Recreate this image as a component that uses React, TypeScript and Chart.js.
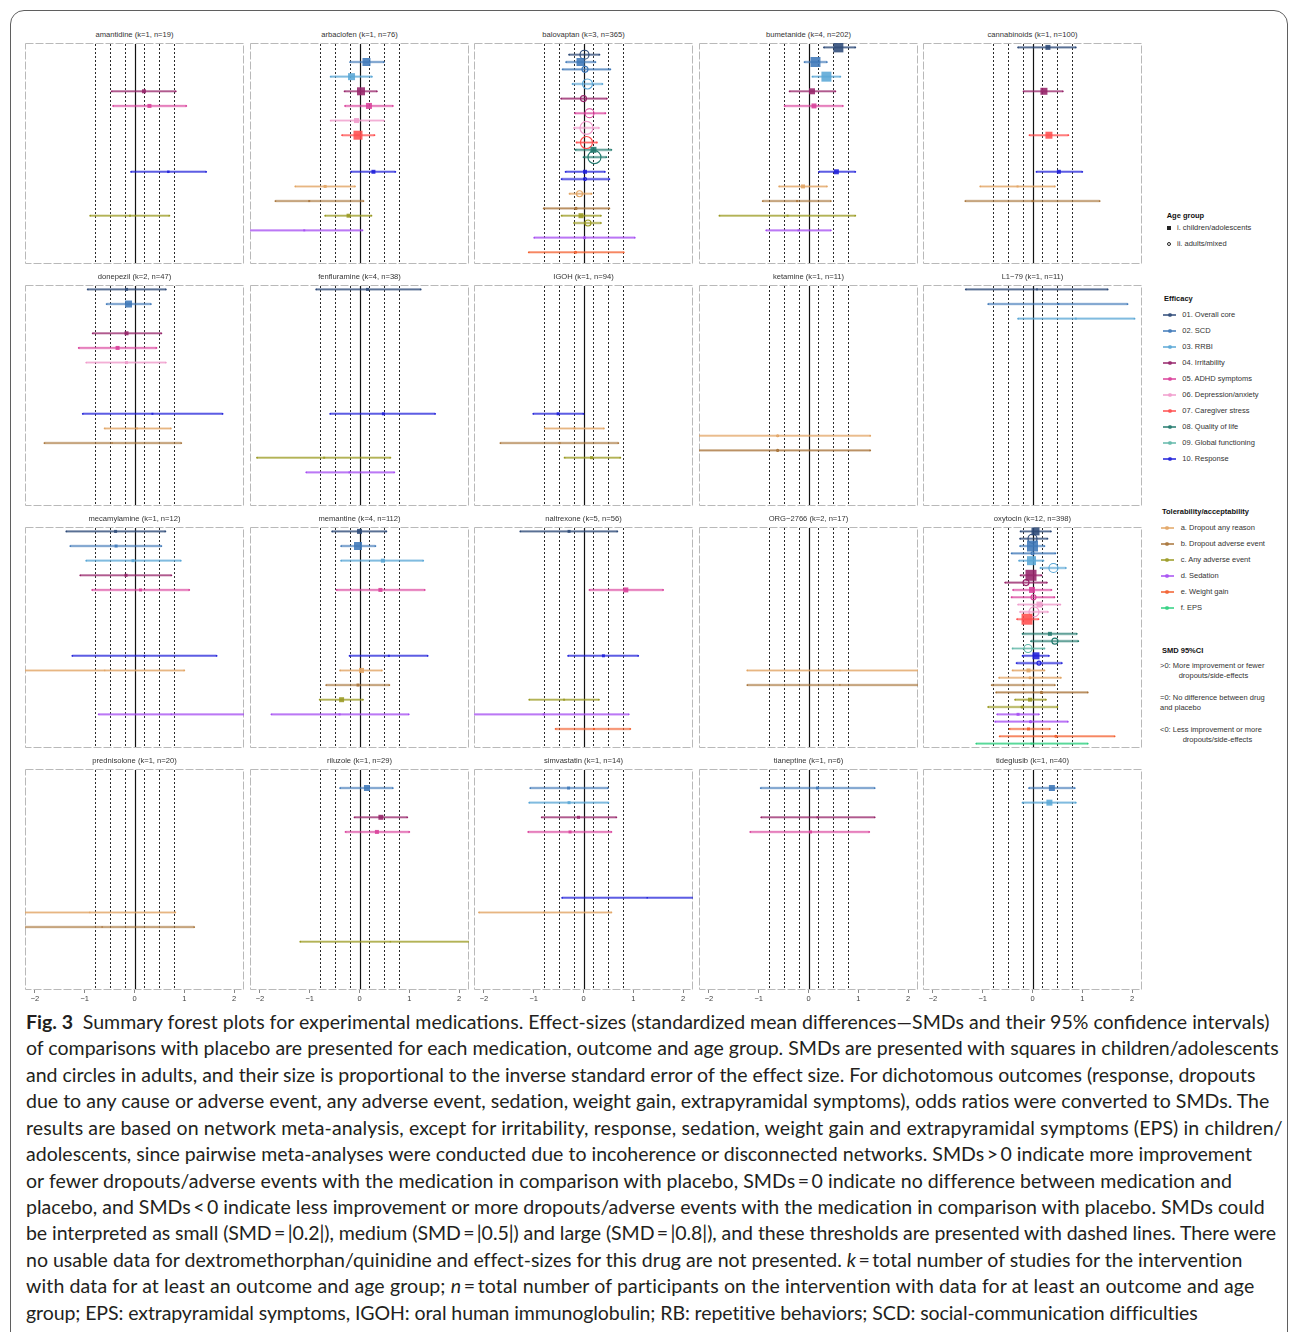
import React, { useEffect, useLayoutEffect, useRef } from "react";
import { Chart, registerables } from "chart.js";
Chart.register(...registerables);

// ---------- DATA ----------
type Row = [string, number, number, number, number]; // row key, SMD, lower CI, upper CI, precision (marker size ~ 1/SE)

// y-axis rows (outcome code + age group: c = children/adolescents, a = adults/mixed)
const rowKeys = [
  "01c", "01a", "02c", "02a", "03c", "03a", "04c", "04a", "05c", "05a",
  "06c", "06a", "07c", "07a", "08c", "08a", "09a", "10c", "10a",
  "ac", "aa", "bc", "ba", "cc", "ca", "dc", "da", "ec", "ea", "fc",
];
const xTicks = [-2, -1, 0, 1, 2];
const thresholds = [-0.8, -0.5, -0.2, 0.2, 0.5, 0.8];

const outcomeCodes = ["01", "02", "03", "04", "05", "06", "07", "08", "09", "10", "a", "b", "c", "d", "e", "f"];
const outcomeColors = [
  "#2e4a78", "#3e78b8", "#5aa7d6", "#96246a", "#d9409a", "#f09ccc", "#ff4d4d", "#237a6e", "#62b8a9", "#1f1fd9",
  "#e2a564", "#a8743a", "#9a9a22", "#a64ff2", "#f25f2e", "#2fd080",
];
const efficacyLabels = [
  "01. Overall core", "02. SCD", "03. RRBI", "04. Irritability", "05. ADHD symptoms",
  "06. Depression/anxiety", "07. Caregiver stress", "08. Quality of life", "09. Global functioning", "10. Response",
];
const tolerabilityLabels = [
  "a. Dropout any reason", "b. Dropout adverse event", "c. Any adverse event", "d. Sedation", "e. Weight gain", "f. EPS",
];
const ageLabels = ["i. children/adolescents", "ii. adults/mixed"];

const drugNames = [
  "amantidine", "arbaclofen", "balovaptan", "bumetanide", "cannabinoids",
  "donepezil", "fenfluramine", "IGOH", "ketamine", "L1\u221279",
  "mecamylamine", "memantine", "naltrexone", "ORG\u22122766", "oxytocin",
  "prednisolone", "riluzole", "simvastatin", "tianeptine", "tideglusib",
];
const drugK = [1, 1, 3, 4, 1, 2, 4, 1, 1, 1, 1, 4, 5, 2, 12, 1, 1, 1, 1, 1];
const drugN = [19, 76, 365, 202, 100, 47, 38, 94, 11, 11, 12, 112, 56, 17, 398, 20, 29, 14, 6, 40];

const amantidine: Row[] = [
  ["04c", 0.19, -0.46, 0.83, 4], ["05c", 0.30, -0.43, 1.04, 4], ["10c", 0.68, -0.07, 1.44, 2.5], ["cc", -0.09, -0.89, 0.70, 2],
];
const arbaclofen: Row[] = [
  ["02c", 0.14, -0.19, 0.49, 8], ["03c", -0.16, -0.58, 0.25, 7], ["04c", 0.03, -0.30, 0.35, 8], ["05c", 0.19, -0.29, 0.67, 6],
  ["06c", -0.06, -0.58, 0.49, 5], ["07c", -0.03, -0.35, 0.30, 9], ["10c", 0.28, -0.17, 0.72, 4], ["ac", -0.69, -1.29, -0.09, 3],
  ["bc", -1.01, -1.69, 0.08, 2], ["cc", -0.22, -0.69, 0.24, 4], ["dc", -1.11, -2.6, 0.06, 2],
];
const balovaptan: Row[] = [
  ["01a", 0.02, -0.29, 0.32, 9], ["02c", -0.06, -0.35, 0.24, 8], ["02a", 0.03, -0.42, 0.54, 6], ["03a", 0.08, -0.22, 0.38, 10],
  ["04a", 0.0, -0.45, 0.47, 6], ["05a", 0.12, -0.17, 0.44, 9], ["06a", 0.06, -0.19, 0.31, 13], ["07a", 0.06, -0.14, 0.27, 12],
  ["08c", 0.20, -0.16, 0.56, 6], ["08a", 0.22, 0.0, 0.46, 13], ["10c", 0.03, -0.36, 0.43, 4], ["10a", 0.03, -0.44, 0.52, 3],
  ["aa", -0.08, -0.28, 0.16, 6], ["ba", -0.15, -0.80, 0.52, 2], ["cc", -0.05, -0.44, 0.35, 5], ["ca", 0.09, -0.19, 0.35, 6],
  ["da", 0.02, -0.99, 1.03, 2], ["ea", -0.16, -1.10, 0.81, 2],
];
const bumetanide: Row[] = [
  ["01c", 0.60, 0.31, 0.94, 10], ["02c", 0.14, -0.08, 0.37, 10], ["03c", 0.36, 0.08, 0.64, 10], ["04c", 0.07, -0.38, 0.54, 6],
  ["05c", 0.11, -0.48, 0.69, 5], ["10c", 0.56, 0.21, 0.94, 5], ["ac", -0.11, -0.59, 0.37, 4], ["bc", -0.23, -0.92, 0.45, 2],
  ["cc", -0.42, -1.79, 0.94, 2], ["dc", -0.20, -0.85, 0.45, 2],
];
const cannabinoids: Row[] = [
  ["01c", 0.31, -0.29, 0.87, 5], ["04c", 0.23, -0.18, 0.61, 7], ["07c", 0.33, -0.06, 0.72, 7], ["10c", 0.53, 0.08, 1.0, 4],
  ["ac", -0.30, -1.05, 0.45, 2], ["bc", 0.0, -1.35, 1.35, 2],
];
const donepezil: Row[] = [
  ["01c", -0.16, -0.94, 0.63, 3], ["02c", -0.12, -0.56, 0.33, 7], ["04c", -0.16, -0.84, 0.54, 4], ["05c", -0.34, -1.12, 0.44, 4],
  ["06c", -0.16, -0.97, 0.63, 3], ["10c", 0.36, -1.04, 1.77, 2], ["ac", 0.05, -0.60, 0.73, 2], ["bc", -0.45, -1.81, 0.94, 1.5],
];
const fenfluramine: Row[] = [
  ["01c", 0.16, -0.87, 1.23, 3], ["10c", 0.48, -0.59, 1.52, 3], ["cc", -0.71, -2.06, 0.62, 2], ["dc", -0.20, -1.07, 0.70, 2],
];
const igoh: Row[] = [
  ["10c", -0.51, -1.01, 0.0, 3], ["ac", -0.18, -0.78, 0.41, 2], ["bc", -0.48, -1.67, 0.70, 2], ["cc", 0.16, -0.38, 0.74, 3],
];
const ketamine: Row[] = [
  ["aa", -0.62, -2.6, 1.24, 2], ["ba", -0.62, -2.6, 1.24, 2],
];
const l179: Row[] = [
  ["01c", 0.09, -1.34, 1.51, 2], ["02c", 0.52, -0.89, 1.91, 2], ["03c", 0.87, -0.29, 2.05, 2],
];
const mecamylamine: Row[] = [
  ["01c", -0.38, -1.37, 0.62, 3], ["02c", -0.37, -1.29, 0.54, 3], ["03c", -0.03, -0.97, 0.93, 3], ["04c", -0.17, -1.09, 0.74, 3],
  ["05c", 0.12, -0.85, 1.10, 3], ["10c", 0.20, -1.25, 1.65, 1.5], ["ac", -0.60, -2.4, 1.0, 1.5], ["dc", 0.74, -0.72, 2.3, 1.5],
];
const memantine: Row[] = [
  ["01c", 0.0, -0.55, 0.54, 5], ["02c", -0.03, -0.37, 0.32, 8], ["03c", 0.47, -0.37, 1.28, 4], ["05c", 0.42, -0.46, 1.31, 4],
  ["10c", 0.59, -0.20, 1.37, 2], ["ac", 0.04, -0.39, 0.45, 5], ["bc", -0.03, -0.67, 0.60, 3], ["cc", -0.36, -0.80, 0.07, 5],
  ["dc", -0.40, -1.77, 0.99, 2],
];
const naltrexone: Row[] = [
  ["01c", -0.29, -1.27, 0.68, 3], ["05c", 0.85, 0.12, 1.60, 5], ["10c", 0.40, -0.31, 1.10, 3], ["cc", -0.39, -1.09, 0.31, 2],
  ["dc", -0.80, -2.4, 0.91, 2], ["ec", 0.21, -0.56, 0.94, 2],
];
const org2766: Row[] = [
  ["ac", 0.63, -1.23, 2.5, 1.5], ["bc", 0.63, -1.23, 2.5, 1.5],
];
const oxytocin: Row[] = [
  ["01c", 0.06, -0.24, 0.37, 8], ["01a", 0.0, -0.25, 0.30, 9], ["02c", 0.0, -0.25, 0.24, 11], ["02a", 0.0, -0.42, 0.46, 3],
  ["03c", -0.02, -0.27, 0.22, 9], ["03a", 0.42, 0.16, 0.67, 9], ["04c", -0.03, -0.24, 0.18, 11], ["04a", -0.13, -0.55, 0.29, 6],
  ["05c", -0.01, -0.39, 0.38, 6], ["05a", 0.02, -0.42, 0.44, 5], ["06c", 0.14, -0.29, 0.56, 6], ["06a", 0.03, -0.25, 0.31, 10],
  ["07c", -0.11, -0.31, 0.12, 11], ["08c", 0.35, -0.20, 0.89, 4], ["08a", 0.45, -0.03, 0.92, 6], ["09a", -0.09, -0.40, 0.24, 8],
  ["10c", 0.07, -0.20, 0.33, 7], ["10a", 0.13, -0.32, 0.59, 4], ["ac", -0.08, -0.40, 0.24, 4], ["aa", -0.05, -0.67, 0.57, 2],
  ["bc", -0.18, -0.82, 0.45, 2], ["ba", 0.18, -0.73, 1.11, 2], ["cc", -0.05, -0.35, 0.27, 4], ["ca", -0.21, -0.89, 0.50, 2],
  ["dc", -0.29, -0.71, 0.13, 3], ["da", -0.04, -0.75, 0.71, 2], ["ec", -0.08, -0.46, 0.35, 3], ["ea", 0.47, -0.66, 1.65, 2],
  ["fc", -0.02, -1.13, 1.11, 2],
];
const prednisolone: Row[] = [
  ["ac", -0.9, -2.6, 0.82, 1.5], ["bc", -0.65, -2.6, 1.20, 1.5],
];
const riluzole: Row[] = [
  ["02c", 0.15, -0.39, 0.67, 6], ["04c", 0.43, -0.10, 0.96, 5], ["05c", 0.35, -0.28, 1.0, 4], ["cc", 0.62, -1.19, 2.5, 1.5],
];
const simvastatin: Row[] = [
  ["02c", -0.30, -1.07, 0.49, 3], ["03c", -0.29, -1.09, 0.50, 3], ["04c", -0.10, -0.84, 0.66, 3], ["05c", -0.27, -1.11, 0.56, 3],
  ["10c", 1.28, -0.43, 2.5, 1.5], ["ac", -0.8, -2.1, 0.56, 1.5],
];
const tianeptine: Row[] = [
  ["02c", 0.18, -0.96, 1.33, 3], ["04c", 0.18, -0.95, 1.33, 2], ["05c", 0.04, -1.17, 1.22, 3],
];
const tideglusib: Row[] = [
  ["02c", 0.39, -0.07, 0.85, 6], ["03c", 0.34, -0.20, 0.87, 6],
];

const drugData: Row[][] = [
  amantidine, arbaclofen, balovaptan, bumetanide, cannabinoids,
  donepezil, fenfluramine, igoh, ketamine, l179,
  mecamylamine, memantine, naltrexone, org2766, oxytocin,
  prednisolone, riluzole, simvastatin, tianeptine, tideglusib,
];

const captionLines: React.ReactNode[] = [
  <><b>Fig. 3</b>{"\u2002Summary forest plots for experimental medications. Effect-sizes (standardized mean differences\u2014SMDs and their 95% confidence intervals)"}</>,
  "of comparisons with placebo are presented for each medication, outcome and age group. SMDs are presented with squares in children/adolescents",
  "and circles in adults, and their size is proportional to the inverse standard error of the effect size. For dichotomous outcomes (response, dropouts",
  "due to any cause or adverse event, any adverse event, sedation, weight gain, extrapyramidal symptoms), odds ratios were converted to SMDs. The",
  "results are based on network meta-analysis, except for irritability, response, sedation, weight gain and extrapyramidal symptoms (EPS) in children/",
  "adolescents, since pairwise meta-analyses were conducted due to incoherence or disconnected networks. SMDs\u2009>\u20090 indicate more improvement",
  "or fewer dropouts/adverse events with the medication in comparison with placebo, SMDs\u2009=\u20090 indicate no difference between medication and",
  "placebo, and SMDs\u2009<\u20090 indicate less improvement or more dropouts/adverse events with the medication in comparison with placebo. SMDs could",
  "be interpreted as small (SMD\u2009=\u2009|0.2|), medium (SMD\u2009=\u2009|0.5|) and large (SMD\u2009=\u2009|0.8|), and these thresholds are presented with dashed lines. There were",
  <>{"no usable data for dextromethorphan/quinidine and effect-sizes for this drug are not presented. "}<i>k</i>{"\u2009=\u2009total number of studies for the intervention"}</>,
  <>{"with data for at least an outcome and age group; "}<i>n</i>{"\u2009=\u2009total number of participants on the intervention with data for at least an outcome and age"}</>,
  "group; EPS: extrapyramidal symptoms, IGOH: oral human immunoglobulin; RB: repetitive behaviors; SCD: social-communication difficulties",
];

// ---------- LAYOUT / STYLE ----------
const PANEL_LEFTS = [25, 250, 474, 699, 923];
const PANEL_TOPS = [43, 285, 527, 769];
const PANEL_W = 219;
const PANEL_H = 221;
const AXIS_H = 16;
const SANS = "'Liberation Sans', Arial, Helvetica, sans-serif";
// rendered widths of the caption lines in the figure (px)
const CAPTION_LINE_W = [1244, 1253, 1229, 1244, 1257, 1226, 1206, 1239, 1250, 1216, 1229, 1172];

function colorOf(key: string): string {
  const code = key.length === 3 ? key.slice(0, 2) : key.slice(0, 1);
  return outcomeColors[outcomeCodes.indexOf(code)];
}
function rgba(hex: string, a: number): string {
  const n = parseInt(hex.slice(1), 16);
  return `rgba(${(n >> 16) & 255},${(n >> 8) & 255},${n & 255},${a})`;
}
const isChild = (key: string) => key.endsWith("c");

const decorPlugin = {
  id: "forestDecor",
  beforeDatasetsDraw(chart: any) {
    const { ctx, chartArea: a, scales } = chart;
    const x = scales.x;
    ctx.save();
    ctx.strokeStyle = "#b9b9b9";
    ctx.lineWidth = 1;
    ctx.setLineDash([8, 2]);
    ctx.strokeRect(a.left + 0.5, a.top + 0.5, a.right - a.left - 1, a.bottom - a.top - 1);
    ctx.strokeStyle = "#111";
    ctx.lineWidth = 0.9;
    ctx.setLineDash([2, 2]);
    thresholds.forEach((v) => {
      const px = Math.round(x.getPixelForValue(v)) + 0.5;
      ctx.beginPath();
      ctx.moveTo(px, a.top + 1);
      ctx.lineTo(px, a.bottom - 1);
      ctx.stroke();
    });
    ctx.setLineDash([]);
    ctx.lineWidth = 1.2;
    const z = Math.round(x.getPixelForValue(0)) + 0.5;
    ctx.beginPath();
    ctx.moveTo(z, a.top + 1);
    ctx.lineTo(z, a.bottom - 1);
    ctx.stroke();
    ctx.restore();
  },
};

function Panel({ idx }: { idx: number }) {
  const ref = useRef<HTMLCanvasElement>(null);
  const col = idx % 5;
  const row = Math.floor(idx / 5);
  const showTicks = row === 3;
  useEffect(() => {
    if (!ref.current) return;
    const rows = drugData[idx];
    const datasets: any[] = [];
    rows.forEach(([key, , lo, hi]) => {
      const y = rowKeys.indexOf(key);
      const c = colorOf(key);
      datasets.push({
        data: [{ x: lo, y }, { x: hi, y }], showLine: true, borderColor: rgba(c, 0.42), borderWidth: 2.6,
        pointRadius: 0, clip: 0, order: 3,
      });
      datasets.push({
        data: [{ x: lo, y }, { x: hi, y }], showLine: true, borderColor: rgba(c, 0.9), borderWidth: 0.8,
        pointRadius: 0.9, pointBorderWidth: 0, pointBackgroundColor: c, clip: 0, order: 2,
      });
    });
    datasets.push({
      data: rows.map((r) => ({ x: r[1], y: rowKeys.indexOf(r[0]) })),
      pointStyle: rows.map((r) => (isChild(r[0]) ? "rect" : "circle")),
      pointRadius: rows.map((r) => (isChild(r[0]) ? r[4] * Math.SQRT1_2 : r[4] / 2)),
      pointBackgroundColor: rows.map((r) => (isChild(r[0]) ? rgba(colorOf(r[0]), 0.88) : "rgba(255,255,255,0)")),
      pointBorderColor: rows.map((r) => (isChild(r[0]) ? rgba(colorOf(r[0]), 0.9) : colorOf(r[0]))),
      pointBorderWidth: rows.map((r) => (isChild(r[0]) ? 0 : 1.15)),
      order: 1,
    });
    const chart = new Chart(ref.current, {
      type: "scatter",
      data: { datasets },
      options: {
        animation: false,
        responsive: false,
        events: [],
        layout: { autoPadding: false, padding: { top: 1, left: 1, right: 1, bottom: 0 } },
        plugins: { legend: { display: false }, tooltip: { enabled: false }, title: { display: false } },
        scales: {
          x: {
            type: "linear",
            min: -2.2,
            max: 2.2,
            afterBuildTicks: (s: any) => {
              s.ticks = xTicks.map((v) => ({ value: v }));
            },
            afterFit: (s: any) => {
              s.height = AXIS_H;
              s.paddingLeft = 0;
              s.paddingRight = 0;
            },
            ticks: {
              display: showTicks,
              autoSkip: false,
              maxRotation: 0,
              padding: 1,
              color: "#404040",
              font: { size: 7.5, family: SANS },
              callback: (v: any) => (v < 0 ? "\u2212" + Math.abs(v) : String(v)),
            },
            grid: { drawOnChartArea: false, drawTicks: showTicks, tickLength: 3, color: "#555", lineWidth: 0.7 },
            border: { display: false },
          },
          y: { type: "linear", min: -0.6, max: 29.6, reverse: true, display: false },
        },
      } as any,
      plugins: [decorPlugin],
    });
    return () => chart.destroy();
  }, [idx, showTicks]);
  const left = PANEL_LEFTS[col];
  const top = PANEL_TOPS[row];
  return (
    <>
      <div
        style={{
          position: "absolute", left, top: top - 13, width: PANEL_W, textAlign: "center",
          font: `7.6px ${SANS}`, lineHeight: "10px", color: "#333", whiteSpace: "nowrap",
        }}
      >
        {`${drugNames[idx]} (k=${drugK[idx]}, n=${drugN[idx]})`}
      </div>
      <canvas
        ref={ref}
        width={PANEL_W + 2}
        height={PANEL_H + 1 + AXIS_H}
        style={{ position: "absolute", left: left - 1, top: top - 1, width: PANEL_W + 2, height: PANEL_H + 1 + AXIS_H }}
      />
    </>
  );
}

const txt = (x: number, y: number, s: string, bold = false, key?: any) => (
  <div
    key={key}
    style={{
      position: "absolute", left: x, top: y - 5, lineHeight: "10px", whiteSpace: "nowrap",
      font: `${bold ? "bold " : ""}7.5px ${SANS}`, color: bold ? "#111" : "#333",
    }}
  >
    {s}
  </div>
);

function LegendLine({ x, y, color }: { x: number; y: number; color: string }) {
  return (
    <>
      <div style={{ position: "absolute", left: x, top: y - 0.75, width: 13, height: 1.5, background: rgba(color, 0.75) }} />
      <div
        style={{
          position: "absolute", left: x + 6.5 - 2, top: y - 2, width: 4, height: 4, borderRadius: 2, background: rgba(color, 0.8),
        }}
      />
    </>
  );
}

function Legend() {
  return (
    <>
      {txt(1166.7, 215.7, "Age group", true)}
      <div style={{ position: "absolute", left: 1167, top: 226.3, width: 4, height: 4, background: "#222" }} />
      {txt(1177, 228.3, ageLabels[0])}
      <div
        style={{
          position: "absolute", left: 1167, top: 242.3, width: 4, height: 4, borderRadius: 3, border: "0.8px solid #222",
          boxSizing: "border-box",
        }}
      />
      {txt(1177, 244.3, ageLabels[1])}

      {txt(1164, 299, "Efficacy", true)}
      {efficacyLabels.map((l, i) => (
        <React.Fragment key={"e" + i}>
          <LegendLine x={1163.3} y={315 + 16 * i} color={outcomeColors[i]} />
          {txt(1182.3, 315 + 16 * i, l)}
        </React.Fragment>
      ))}

      {txt(1162, 511.7, "Tolerability/acceptability", true)}
      {tolerabilityLabels.map((l, i) => (
        <React.Fragment key={"t" + i}>
          <LegendLine x={1160.5} y={528 + 16 * i} color={outcomeColors[10 + i]} />
          {txt(1180.7, 528 + 16 * i, l)}
        </React.Fragment>
      ))}

      {txt(1162, 650.7, "SMD 95%CI", true)}
      {txt(1160, 665.7, ">0: More improvement  or fewer")}
      {txt(1178.7, 675.7, "dropouts/side-effects")}
      {txt(1160, 697.7, "=0: No difference between drug")}
      {txt(1160, 708.3, "and placebo")}
      {txt(1160, 730, "<0: Less improvement or more")}
      {txt(1182.7, 739.8, "dropouts/side-effects")}
    </>
  );
}

function Caption() {
  const ref = useRef<HTMLDivElement>(null);
  useLayoutEffect(() => {
    const el = ref.current;
    if (!el) return;
    const first = el.firstElementChild as HTMLElement | null;
    if (!first) return;
    const w = first.getBoundingClientRect().width;
    if (w > 0) {
      const base = 18.5;
      el.style.fontSize = `${(base * CAPTION_LINE_W[0]) / w}px`;
    }
    Array.from(el.children).forEach((child, i) => {
      const c = child as HTMLElement;
      const cw = c.getBoundingClientRect().width;
      const n = (c.textContent || "").length;
      if (i > 0 && n > 0 && cw > 0) {
        c.style.letterSpacing = `${(CAPTION_LINE_W[i] - cw) / n}px`;
      }
    });
  }, []);
  return (
    <div
      ref={ref}
      style={{
        position: "absolute", left: 26, top: 1008.8, fontFamily: "Lato, 'Noto Sans', sans-serif", fontSize: 18.5,
        lineHeight: "26.45px", color: "#231f20",
      }}
    >
      {captionLines.map((l, i) => (
        <div key={i} style={{ whiteSpace: "nowrap", width: "max-content" }}>
          {l}
        </div>
      ))}
    </div>
  );
}

export default function App() {
  return (
    <div
      style={{
        position: "absolute", left: 0, top: 0, width: 1290, height: 1332, overflow: "hidden", background: "#fff",
      }}
    >
      <div
        style={{
          position: "absolute", left: 10, top: 10, width: 1278, height: 1400, border: "1.6px solid #5f5f5f",
          borderRadius: 14, boxSizing: "border-box",
        }}
      />
      {drugNames.map((_, i) => (
        <Panel key={i} idx={i} />
      ))}
      <Legend />
      <Caption />
    </div>
  );
}
